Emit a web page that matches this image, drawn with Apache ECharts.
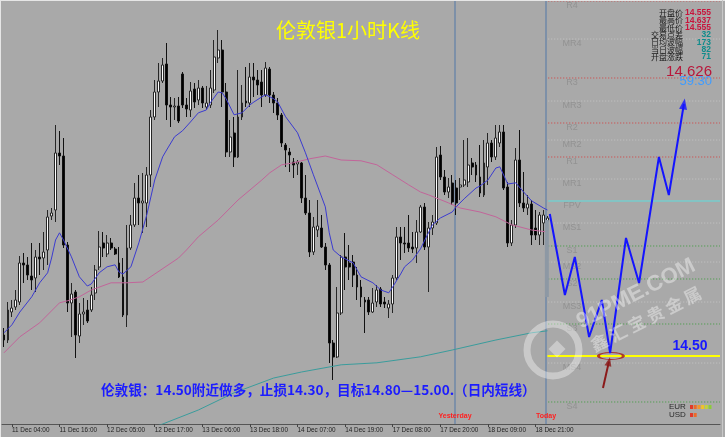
<!DOCTYPE html>
<html><head><meta charset="utf-8">
<script src="https://cdn.jsdelivr.net/npm/echarts@6/dist/echarts.min.js"></script>
<style>html,body{margin:0;padding:0;background:#ffffff;}#c{width:725px;height:440px;}</style>
</head><body><div id="c"></div>
<script>
// ---------- data ----------
const tickLabels = ['11 Dec 04:00','11 Dec 16:00','12 Dec 05:00','12 Dec 17:00','13 Dec 06:00','13 Dec 18:00','14 Dec 07:00','14 Dec 19:00','17 Dec 08:00','17 Dec 20:00','18 Dec 09:00','18 Dec 21:00'];
const tickStart = 2, tickStep = 12, slotCount = 181;
const yMin = 14.33, yMax = 15.3875;

const openP = [14.5525,14.54,14.61,14.6225,14.635,14.7325,14.7275,14.70,14.695,14.7475,
14.745,14.765,14.85,14.865,15.0075,15.00,14.7775,14.6325,14.66,14.55,
14.605,14.615,14.615,14.6575,14.7225,14.7825,14.755,14.7825,14.7675,14.7325,
14.6975,14.6025,14.77,14.8275,14.895,14.8825,14.8825,14.9525,15.0975,15.16,
15.1875,15.23,15.1275,15.1225,15.125,15.205,15.1275,15.115,15.1675,15.14,
15.17,15.1225,15.1275,15.165,15.245,15.265,15.16,15.01,15.0575,14.9975,
15.0975,15.1375,15.1325,15.1975,15.19,15.185,15.1525,15.2175,15.1525,15.1325,
15.1025,15.0275,15.01,14.985,14.98,14.9825,14.895,14.8575,14.76,14.815,
14.82,14.7725,14.7275,14.5325,14.4975,14.6075,14.7475,14.7325,14.735,14.7025,
14.6725,14.64,14.64,14.61,14.635,14.6675,14.635,14.62,14.63,14.695,
14.7975,14.7825,14.7825,14.7725,14.77,14.81,14.8725,14.7725,14.82,14.8325,
15.0025,14.9475,14.91,14.9325,14.92,14.9225,14.9275,14.935,14.9825,14.9775,
14.9475,14.9025,14.9725,15.0325,14.9975,15.0325,15.06,14.9225,14.7825,14.8275,
14.99,14.8825,14.87,14.88,14.82,14.8025,14.8325,14.8375];
const closeP = [14.54,14.615,14.62,14.64,14.7325,14.7275,14.7025,14.69,14.7475,14.7425,
14.76,14.8475,14.8575,15.0075,15.00,14.7775,14.6325,14.655,14.5525,14.605,
14.61,14.5875,14.6525,14.715,14.7725,14.77,14.7825,14.77,14.755,14.6975,
14.6025,14.77,14.8275,14.895,14.8825,14.8875,14.9525,15.0975,15.16,15.1875,
15.2275,15.1275,15.1225,15.125,15.0875,15.1275,15.1175,15.1625,15.135,15.17,
15.1325,15.1325,15.17,15.2475,15.265,15.16,15.01,15.0475,14.9975,15.0975,
15.1325,15.1325,15.1975,15.19,15.1775,15.1525,15.22,15.1525,15.1325,15.1025,
15.0325,15.015,15.0025,14.9775,14.985,14.895,14.8575,14.76,14.8225,14.825,
14.7725,14.7275,14.5325,14.4975,14.6075,14.7475,14.7225,14.7225,14.7025,14.6725,
14.6475,14.635,14.61,14.6325,14.665,14.63,14.63,14.63,14.695,14.7975,
14.7825,14.78,14.77,14.7675,14.81,14.8725,14.7725,14.82,14.835,14.9975,
14.9475,14.91,14.9225,14.885,14.8825,14.9275,14.94,14.9775,14.9725,14.9525,
14.9075,14.9825,15.0325,14.9975,15.045,15.06,14.92,14.7825,14.8275,14.99,
14.8825,14.87,14.88,14.8025,14.8025,14.8525,14.8525,14.845];
const lowP = [14.5225,14.5325,14.5975,14.615,14.6275,14.6825,14.69,14.665,14.66,14.7025,
14.715,14.7275,14.84,14.835,14.9775,14.77,14.61,14.5475,14.495,14.5325,
14.5775,14.5825,14.61,14.64,14.715,14.7475,14.7475,14.765,14.7525,14.695,
14.5975,14.5725,14.765,14.8225,14.8275,14.8075,14.8225,14.9225,15.09,15.1225,
15.1825,15.09,15.0725,15.09,15.0825,15.12,15.0975,15.0975,15.12,15.1275,
15.12,15.115,15.12,15.1575,15.2325,15.1225,14.9975,14.9975,14.9725,14.995,
15.09,15.1225,15.1225,15.1475,15.1525,15.1225,15.1475,15.1325,15.1075,15.09,
15.0225,14.9725,14.96,14.945,14.9525,14.8825,14.8525,14.7475,14.7525,14.7975,
14.77,14.715,14.4825,14.44,14.495,14.6025,14.665,14.69,14.6725,14.64,
14.6225,14.5575,14.6025,14.6075,14.6225,14.6225,14.62,14.595,14.6075,14.69,
14.74,14.7575,14.76,14.7575,14.7325,14.8075,14.765,14.66,14.8025,14.8275,
14.94,14.9025,14.895,14.8775,14.8525,14.89,14.9225,14.9225,14.9525,14.935,
14.8975,14.8975,14.9275,14.985,14.99,15.0225,14.915,14.7725,14.775,14.82,
14.8725,14.86,14.8525,14.7775,14.79,14.7775,14.7775,14.835];
const highP = [14.57,14.635,14.64,14.665,14.75,14.7575,14.7475,14.7825,14.765,14.7825,
14.81,14.865,14.87,15.0775,15.0625,15.045,14.785,14.6825,14.665,14.6325,
14.645,14.64,14.6725,14.7275,14.8125,14.81,14.8025,14.795,14.7725,14.7725,
14.745,14.8275,14.8525,14.9325,14.9525,14.9575,14.9725,15.115,15.19,15.2325,
15.245,15.2825,15.1475,15.145,15.1475,15.21,15.145,15.185,15.1825,15.19,
15.175,15.175,15.215,15.29,15.315,15.29,15.1825,15.09,15.0975,15.215,
15.1775,15.2225,15.2325,15.2325,15.215,15.215,15.235,15.2225,15.16,15.145,
15.1075,15.0325,15.02,14.995,14.99,14.985,14.9525,14.89,14.8475,14.89,
14.8525,14.7825,14.7325,14.54,14.6725,14.7525,14.8075,14.7775,14.7525,14.7225,
14.69,14.6475,14.6475,14.67,14.6775,14.6725,14.6475,14.64,14.7025,14.8225,
14.8225,14.8225,14.8525,14.81,14.84,14.8775,14.8825,14.835,14.8525,15.0225,
15.025,14.965,14.945,14.9525,14.94,14.945,15.04,15.045,14.995,14.985,
15.0275,15.04,15.0575,15.04,15.0775,15.0775,15.0775,14.935,14.84,15.02,
15.065,14.96,14.9025,14.89,14.865,14.86,14.865,14.85];

// moving averages: [bar index, price]
const maFast = [[0,14.558],[2,14.578],[4,14.61],[7,14.648],[9,14.683],[11,14.708],[12,14.745],[13,14.79],[14,14.808],[15,14.79],[17,14.748],[19,14.698],[21,14.675],[22,14.68],[24,14.708],[26,14.723],[28,14.728],[29,14.71],[30,14.705],[32,14.723],[34,14.783],[36,14.853],[38,14.94],[40,14.998],[41,15.015],[43,15.048],[45,15.063],[47,15.085],[49,15.108],[51,15.115],[52,15.133],[54,15.16],[55,15.158],[56,15.143],[58,15.103],[60,15.108],[62,15.128],[63,15.135],[65,15.148],[66,15.153],[68,15.143],[69,15.135],[71,15.098],[74,15.058],[76,15.008],[78,14.953],[81,14.873],[82,14.808],[83,14.765],[85,14.748],[88,14.733],[90,14.698],[93,14.683],[95,14.665],[97,14.658],[98,14.673],[100,14.705],[101,14.723],[103,14.74],[105,14.768],[107,14.808],[108,14.828],[110,14.845],[113,14.86],[114,14.873],[116,14.893],[119,14.92],[120,14.925],[122,14.94],[124,14.97],[125,14.973],[127,14.93],[129,14.933],[131,14.91],[133,14.888],[136,14.87],[137,14.865]];
const maMid = [[0,14.508],[4,14.548],[9,14.583],[14,14.633],[16,14.638],[19,14.648],[22,14.665],[27,14.683],[31,14.683],[35,14.685],[44,14.745],[46,14.765],[49,14.798],[54,14.84],[59,14.89],[62,14.915],[65,14.94],[67,14.958],[70,14.978],[73,14.983],[77,14.993],[81,15.0],[85,14.99],[90,14.988],[94,14.978],[98,14.953],[102,14.928],[105,14.91],[107,14.903],[112,14.883],[115,14.87],[120,14.86],[124,14.848],[128,14.828],[133,14.815],[137,14.81]];
const maSlow = [[30,14.295],[40,14.33],[49,14.365],[58,14.408],[68,14.445],[75,14.46],[85,14.478],[94,14.483],[105,14.498],[113,14.515],[124,14.54],[133,14.558],[137,14.563]];

const pivotNames  = ['R4','MR4','R3','MR3','R2','MR2','R1','MR1','FPV','MS1','S1','MS2','S2','MS3','S3','MS4','S4'];
const pivotLevels = [15.3875,15.2925,15.195,15.1375,15.0825,15.04,14.9975,14.9425,14.8875,14.8325,14.775,14.735,14.6925,14.635,14.58,14.4825,14.385];
const entryLevel = 14.50;
const forecastPath = [[137.6,14.855],[141.4,14.6525],[143.9,14.7475],[147.5,14.5475],[150.7,14.64],[152.8,14.5075],[156.8,14.795],[160.1,14.6825],[165.1,14.9975],[167.6,14.9025],[171.4,15.13]];
const pointerArrow = [[151.0,14.42],[152.5,14.486]];
const entryMark = [153.0,14.50];
const separators = [113.6,136.6];
const todayRange = [[136.85,14.84],[136.85,14.6475]];

const infoLabels = ['开盘价','最高价','最低价','交易点差','日均波幅','当日波幅','开盘涨跌'];
const infoValues = ['14.555','14.637','14.555','32','173','82','71'];
const bidPrice = '14.626', countdown = '59:30';
const planText = '伦敦银：14.50附近做多，止损14.30，目标14.80—15.00.（日内短线）';

// ---------- build ----------
const categories = [], labelAt = {};
for (let i = 0; i < slotCount; i++) categories.push('b' + i);
tickLabels.forEach((t, k) => { labelAt[tickStart + k * tickStep] = t; });
const showTick = (idx) => labelAt[idx] !== undefined;

const candleData = openP.map((o, i) => [o, closeP[i], lowP[i], highP[i]]);
const pivotStart = 137.2, pivotEnd = slotCount - 0.5;

function pivotStyle(n) {
  if (n === 'FPV') return {color: '#5fdede', width: 1, type: 'solid'};
  if (n[0] === 'M') return {color: '#c6c6c6', width: 1, type: [1, 2]};
  if (n[0] === 'R') return {color: '#d64040', width: 1, type: [1, 2]};
  return {color: '#3c9c3c', width: 1, type: [1, 2]};
}

const series = [];
pivotNames.forEach((n, k) => {
  series.push({type: 'line', xAxisIndex: 1, silent: true, symbol: 'none', z: 2,
    data: [[pivotStart, pivotLevels[k]], [pivotEnd, pivotLevels[k]]], lineStyle: pivotStyle(n)});
});
series.push({type: 'scatter', xAxisIndex: 1, silent: true, symbolSize: 1, z: 3,
  itemStyle: {color: 'transparent'},
  label: {show: true, position: 'inside', offset: [0, 5], formatter: '{b}', color: '#8c8c8c', fontSize: 9, fontFamily: 'Liberation Sans'},
  data: pivotNames.map((n, k) => ({name: n, value: [143.2, pivotLevels[k]]}))});
series.push({type: 'line', xAxisIndex: 1, silent: true, symbol: 'none', z: 4,
  data: [[137.0, entryLevel], [pivotEnd, entryLevel]], lineStyle: {color: '#ffff00', width: 2}});
series.push({type: 'candlestick', xAxisIndex: 0, barWidth: 2.4, z: 5,
  itemStyle: {color: '#ffffff', color0: '#000000', borderColor: '#262626', borderColor0: '#111111', borderWidth: 1},
  data: candleData});
series.push({type: 'line', xAxisIndex: 1, symbol: 'none', silent: true, z: 6, data: maSlow, lineStyle: {color: '#3a9c9c', width: 1}});
series.push({type: 'line', xAxisIndex: 1, symbol: 'none', silent: true, z: 6, data: maMid, lineStyle: {color: '#c2659a', width: 1}});
series.push({type: 'line', xAxisIndex: 1, symbol: 'none', silent: true, z: 6, data: maFast, lineStyle: {color: '#3b3bd0', width: 1}});
series.push({type: 'line', xAxisIndex: 1, symbol: 'none', silent: true, z: 7, data: todayRange,
  lineStyle: {color: '#8d98a4', width: 4},
  markLine: {silent: true, symbol: ['none', 'none'], label: {show: false},
    lineStyle: {color: '#6f89a8', width: 1.5, type: 'solid'},
    data: separators.map(v => ({xAxis: v}))}});
series.push({type: 'scatter', xAxisIndex: 1, silent: true, z: 8, symbol: 'circle', symbolSize: [25, 7],
  itemStyle: {color: 'rgba(0,0,0,0)', borderColor: '#a31616', borderWidth: 1.6}, data: [entryMark]});
series.push({type: 'line', xAxisIndex: 1, symbol: 'none', silent: true, z: 8, data: pointerArrow, lineStyle: {color: '#8b1a1a', width: 2}});
series.push({type: 'scatter', xAxisIndex: 1, silent: true, z: 8, symbol: 'triangle', symbolSize: [7, 9],
  itemStyle: {color: '#8b1a1a'}, data: [{value: pointerArrow[1], symbolRotate: -13}]});
series.push({type: 'line', xAxisIndex: 1, symbol: 'none', silent: true, z: 9, data: forecastPath, lineStyle: {color: '#1414ff', width: 2}});
series.push({type: 'scatter', xAxisIndex: 1, silent: true, z: 9, symbol: 'triangle', symbolSize: [8, 11],
  itemStyle: {color: '#1414ff'}, data: [{value: forecastPath[forecastPath.length - 1], symbolRotate: -9}]});

const graphic = [
  {type: 'rect', silent: true, z: 100, shape: {x: 0, y: 0, width: 725, height: 1}, style: {fill: '#e6e6e6'}},
  {type: 'rect', silent: true, z: 100, shape: {x: 0, y: 0, width: 1, height: 440}, style: {fill: '#e6e6e6'}},
  {type: 'rect', silent: true, z: 100, shape: {x: 0, y: 437, width: 725, height: 3}, style: {fill: '#ffffff'}},
  {type: 'rect', silent: true, z: 100, shape: {x: 722, y: 0, width: 1, height: 437}, style: {fill: '#c8c8c8'}},
  {type: 'text', silent: true, z: 100, x: 348, y: 30, style: {text: '伦敦银1小时K线', fill: '#ffff00', fontSize: 20, fontFamily: 'Noto Sans CJK SC', align: 'center', verticalAlign: 'middle'}},
  {type: 'text', silent: true, z: 100, x: 101, y: 390, style: {text: planText, fill: '#1c1cff', fontSize: 13.6, fontWeight: 'bold', fontFamily: 'Noto Sans CJK SC', align: 'left', verticalAlign: 'middle'}},
  {type: 'text', silent: true, z: 100, x: 690, y: 346, style: {text: '14.50', fill: '#1818ff', fontSize: 14, fontWeight: 'bold', fontFamily: 'Liberation Sans', align: 'center', verticalAlign: 'middle'}},
  {type: 'text', silent: true, z: 100, x: 712, y: 72, style: {text: bidPrice, fill: '#b8163a', fontSize: 15, fontFamily: 'Liberation Sans', align: 'right', verticalAlign: 'middle'}},
  {type: 'text', silent: true, z: 100, x: 712, y: 81, style: {text: countdown, fill: '#3f9cff', fontSize: 13, fontFamily: 'Liberation Sans', align: 'right', verticalAlign: 'middle'}},
  {type: 'text', silent: true, z: 100, x: 455, y: 416, style: {text: 'Yesterday', fill: '#ff2020', fontSize: 7, fontWeight: 'bold', fontFamily: 'Liberation Sans', align: 'center', verticalAlign: 'middle'}},
  {type: 'text', silent: true, z: 100, x: 546, y: 416, style: {text: 'Today', fill: '#ff2020', fontSize: 7, fontWeight: 'bold', fontFamily: 'Liberation Sans', align: 'center', verticalAlign: 'middle'}},
  {type: 'text', silent: true, z: 100, x: 669, y: 407, style: {text: 'EUR', fill: '#2a2a2a', fontSize: 8, fontFamily: 'Liberation Sans', align: 'left', verticalAlign: 'middle'}},
  {type: 'text', silent: true, z: 100, x: 669, y: 415, style: {text: 'USD', fill: '#2a2a2a', fontSize: 8, fontFamily: 'Liberation Sans', align: 'left', verticalAlign: 'middle'}}
];
const rowY = [13, 20.3, 27.6, 34.9, 42.2, 49.5, 56.8];
infoLabels.forEach((t, k) => {
  graphic.push({type: 'text', silent: true, z: 100, x: 683, y: rowY[k], style: {text: t, fill: '#1c1c1c', fontSize: 8, fontFamily: 'Noto Sans CJK SC', align: 'right', verticalAlign: 'middle'}});
  graphic.push({type: 'text', silent: true, z: 100, x: 711, y: rowY[k], style: {text: infoValues[k], fill: k < 3 ? '#c8143c' : '#0f8c8c', fontSize: 8.5, fontWeight: 'bold', fontFamily: 'Liberation Sans', align: 'right', verticalAlign: 'middle'}});
});
['#e03a2a','#ec6a2a','#f3962a','#f0c22a','#c4d23a','#8ccc3a'].forEach((c, k) => {
  graphic.push({type: 'rect', silent: true, z: 100, shape: {x: 690 + k * 3.7, y: 405, width: 3, height: 4}, style: {fill: c}});
});
['#e03a2a','#ec6a2a'].forEach((c, k) => {
  graphic.push({type: 'rect', silent: true, z: 100, shape: {x: 690 + k * 3.7, y: 413, width: 3, height: 4}, style: {fill: c}});
});
// watermark
graphic.push({type: 'circle', silent: true, z: 110, shape: {cx: 553, cy: 350, r: 26}, style: {fill: 'none', stroke: 'rgba(255,255,255,0.38)', lineWidth: 7}});
graphic.push({type: 'rect', silent: true, z: 110, x: 557, y: 349, rotation: Math.PI / 4, shape: {x: -6, y: -6, width: 12, height: 12}, style: {fill: 'rgba(255,255,255,0.38)'}});
graphic.push({type: 'text', silent: true, z: 110, x: 636, y: 294, rotation: 0.47, style: {text: '91PME.COM', fill: 'rgba(255,255,255,0.4)', fontSize: 22, fontWeight: 'bold', fontFamily: 'Liberation Sans', align: 'center', verticalAlign: 'middle'}});
graphic.push({type: 'text', silent: true, z: 110, x: 646, y: 319, rotation: 0.47, style: {text: '鑫 汇 宝 贵 金 属', fill: 'rgba(255,255,255,0.4)', fontSize: 17, fontWeight: 'bold', fontFamily: 'Noto Sans CJK SC', align: 'center', verticalAlign: 'middle'}});

const chart = echarts.init(document.getElementById('c'), null, {renderer: 'canvas'});
chart.setOption({
  animation: false,
  backgroundColor: '#a9a9a9',
  grid: {left: 2, right: 5, top: 1, bottom: 16, containLabel: false},
  xAxis: [
    {type: 'category', data: categories, boundaryGap: true,
      axisLine: {show: true, lineStyle: {color: '#555555', width: 1}},
      axisTick: {show: true, alignWithLabel: true, interval: showTick, length: 3, lineStyle: {color: '#444444'}},
      axisLabel: {show: true, interval: showTick, formatter: (v, idx) => labelAt[idx] || '', align: 'left', margin: 3,
        fontSize: 6.4, color: '#1e1e1e', fontFamily: 'Liberation Sans'},
      splitLine: {show: false}},
    {type: 'value', min: -0.5, max: slotCount - 0.5, show: false}
  ],
  yAxis: {type: 'value', min: yMin, max: yMax, show: false, scale: true},
  series: series,
  graphic: graphic
});
</script></body></html>
